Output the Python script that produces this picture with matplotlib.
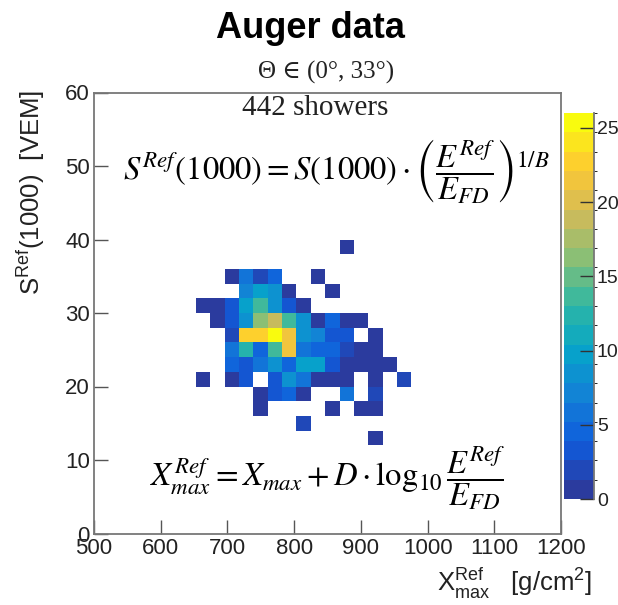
import numpy as np
import matplotlib.pyplot as plt
from matplotlib.colors import LinearSegmentedColormap, BoundaryNorm

plt.rcParams['font.family'] = ['Liberation Sans', 'DejaVu Sans']

# binning of the 2D histogram: Xmax [g/cm2] x S(1000) [VEM]
x_lo, x_bin, n_x = 653.0, 21.5, 15
y_lo, y_bin, n_y = 12.0, 2.0, 14

# shower counts per cell, top row (S = 38-40) first, left column (Xmax ~ 653) first
counts = [
    [0, 0, 0, 0, 0, 0, 0, 0, 0, 0, 1, 0, 0, 0, 0],
    [0, 0, 0, 0, 0, 0, 0, 0, 0, 0, 0, 0, 0, 0, 0],
    [0, 0, 1, 6, 2, 4, 0, 0, 1, 0, 0, 0, 0, 0, 0],
    [0, 0, 0, 7, 10, 9, 1, 0, 0, 1, 0, 0, 0, 0, 0],
    [1, 1, 3, 10, 14, 9, 3, 1, 0, 0, 0, 0, 0, 0, 0],
    [0, 1, 3, 9, 16, 19, 14, 9, 1, 5, 1, 1, 0, 0, 0],
    [0, 0, 2, 23, 23, 26, 21, 9, 7, 3, 3, 0, 1, 0, 0],
    [0, 0, 6, 12, 5, 14, 22, 6, 4, 4, 2, 1, 1, 0, 0],
    [0, 0, 4, 3, 6, 9, 5, 10, 10, 3, 1, 1, 1, 1, 0],
    [1, 0, 1, 3, 0, 3, 9, 6, 1, 1, 1, 0, 1, 0, 2],
    [0, 0, 0, 0, 1, 3, 5, 1, 0, 0, 6, 0, 2, 0, 0],
    [0, 0, 0, 0, 1, 0, 0, 0, 0, 1, 0, 1, 1, 0, 0],
    [0, 0, 0, 0, 0, 0, 0, 2, 0, 0, 0, 0, 0, 0, 0],
    [0, 0, 0, 0, 0, 0, 0, 0, 0, 0, 0, 0, 1, 0, 0],
]
z_max = 26
cb_ticks = [0, 5, 10, 15, 20, 25]

H = np.array(counts, dtype=float)[::-1]
xe = x_lo + x_bin * np.arange(n_x + 1)
ye = y_lo + y_bin * np.arange(n_y + 1)

# ROOT kBird-like palette, 20 contour levels
stops = [0, .125, .25, .375, .5, .625, .75, .875, 1]
red = [0.17, 0.0592, 0.0780, 0.0232, 0.1802, 0.5301, 0.8186, 0.9956, 0.9764]
green = [0.23, 0.3599, 0.5041, 0.6419, 0.7178, 0.7492, 0.7328, 0.7862, 0.9832]
blue = [0.62, 0.8684, 0.8385, 0.7914, 0.6425, 0.4662, 0.3499, 0.1968, 0.0539]
bird = LinearSegmentedColormap.from_list('bird', list(zip(stops, zip(red, green, blue))))
levels = np.linspace(0, z_max, 21)
norm = BoundaryNorm(levels, 256)

W, Hpx = 618, 605
fig = plt.figure(figsize=(W / 100, Hpx / 100), dpi=100)
ax = fig.add_axes([94 / W, 1 - 533.5 / Hpx, (561 - 94) / W, (533.5 - 92.5) / Hpx])

mesh = ax.pcolormesh(xe, ye, np.ma.masked_equal(H, 0), cmap=bird, norm=norm)
ax.set_xlim(500, 1200)
ax.set_ylim(0, 60)
ax.set_xticks(range(500, 1201, 100))
ax.set_yticks(range(0, 61, 10))
ax.tick_params(direction='in', length=10, width=1, color='#555555',
               labelsize=16, labelcolor='#222222')
ax.tick_params(axis='x', pad=3)
ax.tick_params(axis='y', pad=3)
for s in ax.spines.values():
    s.set_color('#777777')
    s.set_linewidth(1.3)

# palette
cax = fig.add_axes([564 / W, 1 - 499 / Hpx, 30 / W, 386 / Hpx])
cb = fig.colorbar(mesh, cax=cax, ticks=cb_ticks)
cb.outline.set_visible(False)
cax.tick_params(direction='in', length=10, width=1, color='#333333',
                labelsize=14, labelcolor='#222222', pad=2)
cax.plot([1, 1], [0, 1], transform=cax.transAxes, color='#777777', lw=1.3, clip_on=False)

# titles
fig.text(310 / W, 1 - 28 / Hpx, 'Auger data', ha='center', va='center',
         fontsize=26, fontweight='bold')
fig.text(326 / W, 1 - 72 / Hpx, 'Θ ∈ (0°, 33°)', ha='center', va='center',
         fontsize=18, family=['Liberation Serif', 'DejaVu Serif'], color='#222222')
fig.text(315 / W, 1 - 108 / Hpx, '442 showers', ha='center', va='center',
         fontsize=21, family='Liberation Serif', color='#222222')

# formulas
f1 = r'$S^{Ref}\left(1000\right)=S\left(1000\right)\cdot\left(\dfrac{E^{Ref}}{E_{FD}}\right)^{1/B}$'
f2 = r'$X^{Ref}_{max}=X_{max}+D\cdot\mathrm{log}_{10}\,\dfrac{E^{Ref}}{E_{FD}}$'
fig.text(123 / W, 1 - 172 / Hpx, f1, ha='left', va='center', fontsize=23.5,
         math_fontfamily='stix')
fig.text(150 / W, 1 - 478 / Hpx, f2, ha='left', va='center', fontsize=23.5,
         math_fontfamily='stix')

# axis titles
fig.text(31 / W, 1 - 192 / Hpx, r'S$^{\mathregular{Ref}}$(1000)  [VEM]', rotation=90,
         ha='center', va='center', fontsize=18.5, color='#222222')
fig.text(592 / W, 1 - 583 / Hpx, r'X$^{\mathregular{Ref}}_{\mathregular{max}}$   [g/cm$^{\mathregular{2}}$]',
         ha='right', va='center', fontsize=18.5, color='#222222')

fig.savefig('out.png', dpi=100)
